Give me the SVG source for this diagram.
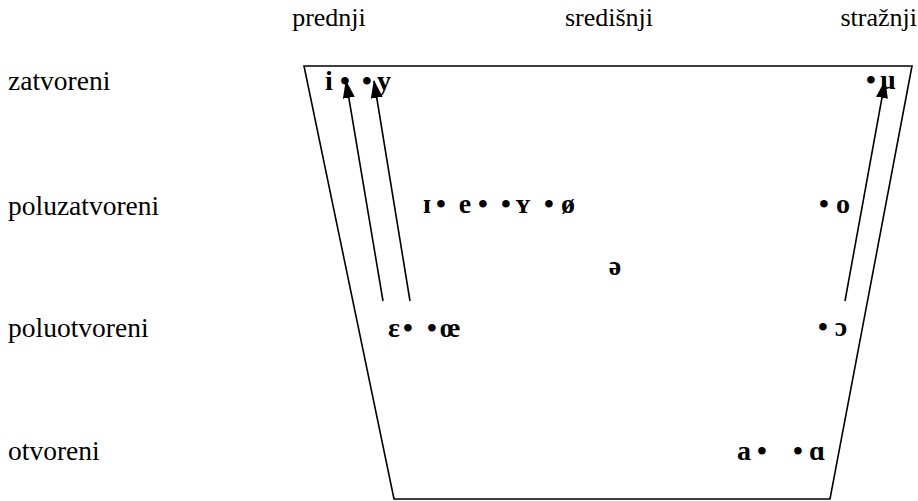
<svg xmlns="http://www.w3.org/2000/svg" width="918" height="501" viewBox="0 0 918 501">
<style>
.hd{font-family:'Liberation Serif','Times New Roman',Tinos,'DejaVu Serif',serif;font-size:26px;fill:#000}
.lbl{font-family:'Liberation Serif','Times New Roman',Tinos,'DejaVu Serif',serif;font-size:27.5px;fill:#000}
.v{font-family:'Liberation Serif','Times New Roman',Tinos,'DejaVu Serif',serif;font-size:28px;font-weight:bold;fill:#000;text-anchor:middle}
.edge{stroke:#000;stroke-width:1.6;fill:none}
.arr{stroke:#000;stroke-width:1.6;fill:none;marker-end:url(#ah)}
</style>
<defs>
<marker id="ah" viewBox="0 0 18 12" refX="17" refY="6" markerWidth="18" markerHeight="12" markerUnits="userSpaceOnUse" orient="auto">
<path d="M0,0 L18,6 L0,12 z" fill="#000"/>
</marker>
</defs>
<g id="headers">
<text class="hd" x="329" y="26" text-anchor="middle">prednji</text>
<text class="hd" x="609" y="26" text-anchor="middle">središnji</text>
<text class="hd" x="917" y="26" text-anchor="end">stražnji</text>
</g>
<g id="rows">
<text class="lbl" x="8" y="90">zatvoreni</text>
<text class="lbl" x="8" y="215">poluzatvoreni</text>
<text class="lbl" x="8" y="337">poluotvoreni</text>
<text class="lbl" x="8" y="460">otvoreni</text>
</g>
<g id="trapezoid">
<path class="edge" d="M304,66 L912,66 L830,499 L394,499 Z"/>
</g>
<g id="connectors">
<line class="arr" x1="383" y1="301" x2="346" y2="81"/>
<line class="arr" x1="410" y1="301" x2="374" y2="81"/>
<line class="arr" x1="845" y1="301" x2="885" y2="81"/>
</g>
<g id="row-zatvoreni">
<text class="v" x="329" y="90">i</text>
<text class="v" x="345" y="90">•</text>
<text class="v" x="367" y="90">•</text>
<text class="v" x="384" y="90">y</text>
<text class="v" x="871" y="89">•</text>
<text class="v" x="888" y="89">u</text>
</g>
<g id="row-poluzatvoreni">
<text class="v" x="427" y="213">ɪ</text>
<text class="v" x="441" y="213">•</text>
<text class="v" x="465" y="213">e</text>
<text class="v" x="483" y="213">•</text>
<text class="v" x="506" y="213">•</text>
<text class="v" x="523" y="213">ʏ</text>
<text class="v" x="549" y="213">•</text>
<text class="v" x="568" y="213">ø</text>
<text class="v" x="824" y="213">•</text>
<text class="v" x="843" y="213">o</text>
</g>
<g id="schwa">
<text class="v" x="615" y="275">ə</text>
</g>
<g id="row-poluotvoreni">
<text class="v" x="394" y="337">ε</text>
<text class="v" x="408" y="337">•</text>
<text class="v" x="432" y="337">•</text>
<text class="v" x="450" y="337">œ</text>
<text class="v" x="823" y="336">•</text>
<text class="v" x="841" y="336">ɔ</text>
</g>
<g id="row-otvoreni">
<text class="v" x="744" y="460">a</text>
<text class="v" x="762" y="460">•</text>
<text class="v" x="798" y="460">•</text>
<text class="v" x="817" y="460">ɑ</text>
</g>
</svg>
